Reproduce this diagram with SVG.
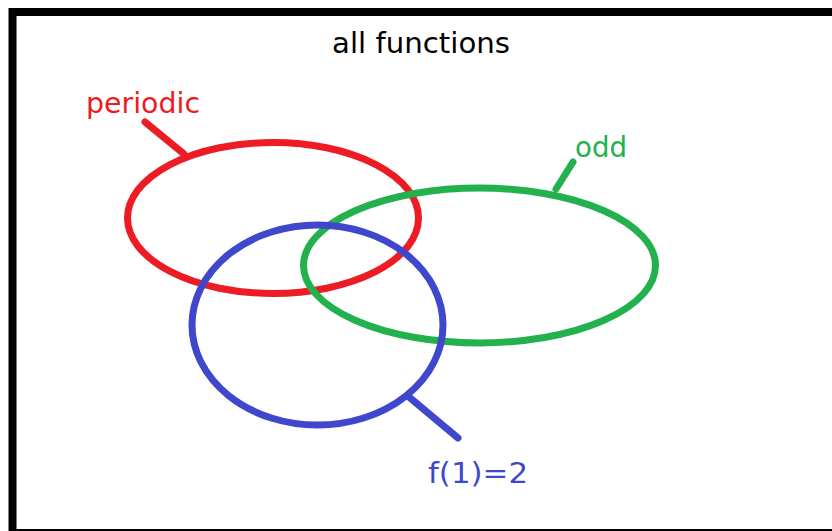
<svg xmlns="http://www.w3.org/2000/svg" width="832" height="531" viewBox="0 0 832 531">
<style>
.lbl{font-family:"DejaVu Sans","Verdana",sans-serif;font-size:28px}
.set{fill:none;stroke-width:7}
.conn{stroke-width:7;stroke-linecap:round}
</style>
<rect x="0" y="0" width="832" height="531" fill="#fff"/>
<rect x="12.5" y="12" width="840" height="521" fill="none" stroke="#000" stroke-width="8"/>
<text class="lbl" x="332" y="53" fill="#000" textLength="178" lengthAdjust="spacingAndGlyphs">all functions</text>
<g id="periodic">
<ellipse class="set" cx="273" cy="218" rx="145.5" ry="75.5" stroke="#ED1C24"/>
<text class="lbl" x="86" y="113" fill="#ED1C24" textLength="114" lengthAdjust="spacingAndGlyphs">periodic</text>
</g>
<g id="odd">
<ellipse class="set" cx="479.5" cy="265.5" rx="176" ry="77.5" stroke="#22B14C"/>
<text class="lbl" x="575" y="157" fill="#22B14C" textLength="52" lengthAdjust="spacingAndGlyphs">odd</text>
</g>
<g id="f1eq2">
<ellipse class="set" cx="317.5" cy="325" rx="125.5" ry="100" stroke="#3F48CC"/>
<text class="lbl" x="428" y="483" fill="#3F48CC" textLength="100" lengthAdjust="spacingAndGlyphs">f(1)=2</text>
</g>
<g id="connectors">
<line class="conn" x1="145" y1="122" x2="184" y2="154" stroke="#ED1C24"/>
<line class="conn" x1="573" y1="162" x2="556" y2="189" stroke="#22B14C"/>
<line class="conn" x1="458" y1="438" x2="409" y2="397" stroke="#3F48CC"/>
</g>
</svg>
